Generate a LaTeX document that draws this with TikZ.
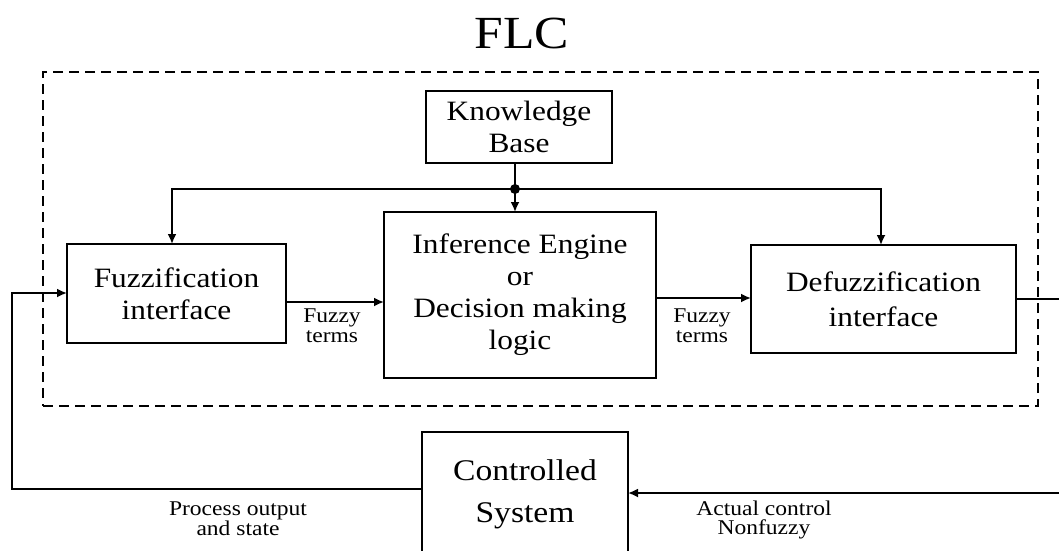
\documentclass[tikz,border=0pt]{standalone}
\usepackage{fontspec}
\setmainfont[FakeStretch=1.12]{Liberation Serif}
\usetikzlibrary{arrows.meta,calc}

\tikzset{
  blk/.style={draw, line width=2.4pt, inner sep=0pt, outer sep=0pt, align=center,
              font=\fontsize{28}{32}\selectfont},
  dashbox/.style={draw, line width=1.8pt, dash pattern=on 10pt off 6pt, inner sep=0pt, outer sep=0pt},
  conn/.style={line width=1.9pt},
  arr/.style={conn, -{Latex[length=10pt,width=9pt]}},
  small/.style={align=center, inner sep=0pt, font=\fontsize{21}{20}\selectfont},
  lbl/.style={align=center, inner sep=0pt, font=\fontsize{21}{19}\selectfont},
  ttl/.style={inner sep=0pt, font=\fontsize{46}{50}\selectfont}
}

\begin{document}
\begin{tikzpicture}[x=1pt, y=-1pt]
  % page frame
  \clip (0,0) rectangle (1059,550);
  \fill[white] (0,0) rectangle (1059,550);

  % title and controller boundary
  \node[ttl] (title) at (522,33) {FLC};
  \node[dashbox, minimum width=995pt, minimum height=334pt] (flc) at (540.5,239) {};

  % blocks
  \node[blk, minimum width=186pt, minimum height=72pt] (kb) at (519,127) {Knowledge\\Base};
  \node[blk, minimum width=219pt, minimum height=99pt] (fuzz) at (176.5,293.5) {Fuzzification\\interface};
  \node[blk, minimum width=272pt, minimum height=166pt] (inf) at (520,295)
       {Inference Engine\\or\\Decision making\\logic};
  \node[blk, minimum width=265pt, minimum height=108pt, font=\fontsize{28}{35}\selectfont] (defuzz) at (883.5,299)
       {Defuzzification\\interface};
  \node[blk, minimum width=206pt, minimum height=124pt, font=\fontsize{30}{42}\selectfont] (ctrl) at (525,494)
       {Controlled\\System};

  % routing helpers
  \coordinate (J)  at (515,189);
  \coordinate (xF) at (172,0);
  \coordinate (xD) at (881,0);
  \coordinate (xL) at (12,0);
  \coordinate (xR) at (1075,0);
  \coordinate (yA) at (0,302);
  \coordinate (yB) at (0,298);
  \coordinate (yC) at (0,299);
  \coordinate (yD) at (0,493);
  \coordinate (yE) at (0,489);
  \coordinate (yF) at (0,293);

  % knowledge base distribution
  \draw[conn] (kb.south -| J) -- (J);
  \draw[arr] (J) -- (inf.north -| J);
  \draw[arr] (J) -| (xF |- fuzz.north);
  \draw[arr] (J) -| (xD |- defuzz.north);
  \fill (J) circle (5pt);

  % forward path
  \draw[arr] (fuzz.east |- yA) -- (inf.west |- yA);
  \draw[arr] (inf.east |- yB) -- (defuzz.west |- yB);
  \draw[arr] (defuzz.east |- yC) -- (xR |- yC) -- (xR |- yD) -- (ctrl.east |- yD);

  % feedback path
  \draw[arr] (ctrl.west |- yE) -- (xL |- yE) -- (xL |- yF) -- (fuzz.west |- yF);

  % signal labels
  \node[small] (t1) at (332,326) {Fuzzy\\terms};
  \node[small] (t2) at (702,326) {Fuzzy\\terms};
  \node[lbl] (t3) at (238,519) {Process output\\and state};
  \node[lbl] (t4) at (764,520) {Actual control\\Nonfuzzy};
\end{tikzpicture}
\end{document}
